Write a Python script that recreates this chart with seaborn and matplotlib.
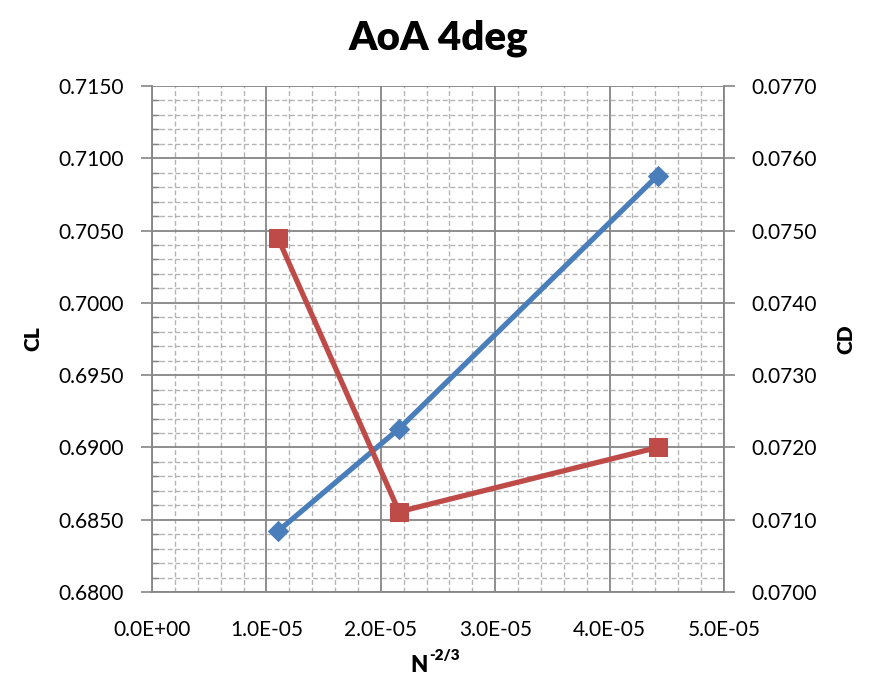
import matplotlib
matplotlib.use("Agg")
import matplotlib.pyplot as plt
import seaborn as sns
import pandas as pd
from matplotlib.ticker import MultipleLocator, FuncFormatter

# Data
x_vals = [1.10e-05, 2.16e-05, 4.42e-05]
cl_vals = [0.6842, 0.6913, 0.7088]
cd_vals = [0.07490, 0.07111, 0.07200]

sns.set_style("white")
plt.rcParams['font.family'] = ['Lato', 'DejaVu Sans']
plt.rcParams['text.color'] = 'black'
plt.rcParams['axes.labelcolor'] = 'black'

df = pd.DataFrame({"x": x_vals, "CL": cl_vals, "CD": cd_vals})

W, H = 869, 677
fig = plt.figure(figsize=(8.69, 6.77), dpi=100)
ax = fig.add_axes([152/W, 1-592/H, (724-152)/W, (592-86)/H])
ax2 = ax.twinx()

blue = "#4A7EBB"
red = "#BE4B48"

ax.set_xlim(0, 5e-05)
ax.set_ylim(0.68, 0.715)
ax2.set_ylim(0.07, 0.077)
ax.xaxis.set_major_locator(MultipleLocator(1e-05))
ax.xaxis.set_minor_locator(MultipleLocator(0.2e-05))
ax.yaxis.set_major_locator(MultipleLocator(0.005))
ax.yaxis.set_minor_locator(MultipleLocator(0.001))
ax2.yaxis.set_major_locator(MultipleLocator(0.001))
ax2.yaxis.set_minor_locator(MultipleLocator(0.0002))

ax.grid(True, which='major', color='#868686', linewidth=1.3)
ax.grid(True, which='minor', color='#B4B4B4', linewidth=1.0, linestyle=(0, (3.5, 2)))
ax.set_axisbelow(True)

sns.lineplot(data=df, x="x", y="CL", ax=ax, color=blue, linewidth=3.8,
             marker="D", markersize=10, markeredgecolor=blue, zorder=3)
sns.lineplot(data=df, x="x", y="CD", ax=ax2, color=red, linewidth=3.8,
             marker="s", markersize=12.5, markeredgecolor=red, zorder=3)

ax.xaxis.set_major_formatter(FuncFormatter(lambda v, p: "%.1E" % v))
ax.yaxis.set_major_formatter(FuncFormatter(lambda v, p: "%.4f" % v))
ax2.yaxis.set_major_formatter(FuncFormatter(lambda v, p: "%.4f" % v))

for a in (ax, ax2):
    for s in a.spines.values():
        s.set_visible(False)
ax.spines['left'].set_visible(True)
ax.spines['bottom'].set_visible(True)
ax2.spines['right'].set_visible(True)
for s in (ax.spines['left'], ax.spines['bottom'], ax2.spines['right']):
    s.set_color('#868686')
    s.set_linewidth(1.3)

ax.tick_params(axis='x', which='major', direction='out', length=8, width=1.2, color='#868686',
               labelsize=15, labelcolor='black', pad=12)
ax.tick_params(axis='x', which='minor', length=0)
ax.tick_params(axis='y', which='major', direction='out', length=8, width=1.2, color='#868686',
               labelsize=15, labelcolor='black', pad=12, left=True)
ax.tick_params(axis='y', which='minor', direction='in', length=5, width=1.0, color='#868686', left=True)
ax2.tick_params(axis='y', which='major', direction='out', length=8, width=1.2, color='#868686',
                labelsize=15, labelcolor='black', pad=12, right=True)
ax2.tick_params(axis='y', which='minor', length=0)

ax.set_xlabel("")
ax2.set_ylabel("")
ax.set_ylabel("CL", fontsize=15, fontweight='heavy', labelpad=12, color='black')
ax2.set_ylabel("CD", fontsize=15, fontweight='heavy', labelpad=14, color='black')
ax.set_title("AoA 4deg", fontsize=29, fontweight='heavy', pad=26, color='black')

# x-axis label N^-2/3 with bold superscript
fig.text(428/W, 1-672/H, "N", fontsize=16, fontweight='heavy', ha='right', va='baseline')
fig.text(429/W, 1-660/H, "-2/3", fontsize=11, fontweight='heavy', ha='left', va='baseline')

fig.savefig("out.png", dpi=100)
